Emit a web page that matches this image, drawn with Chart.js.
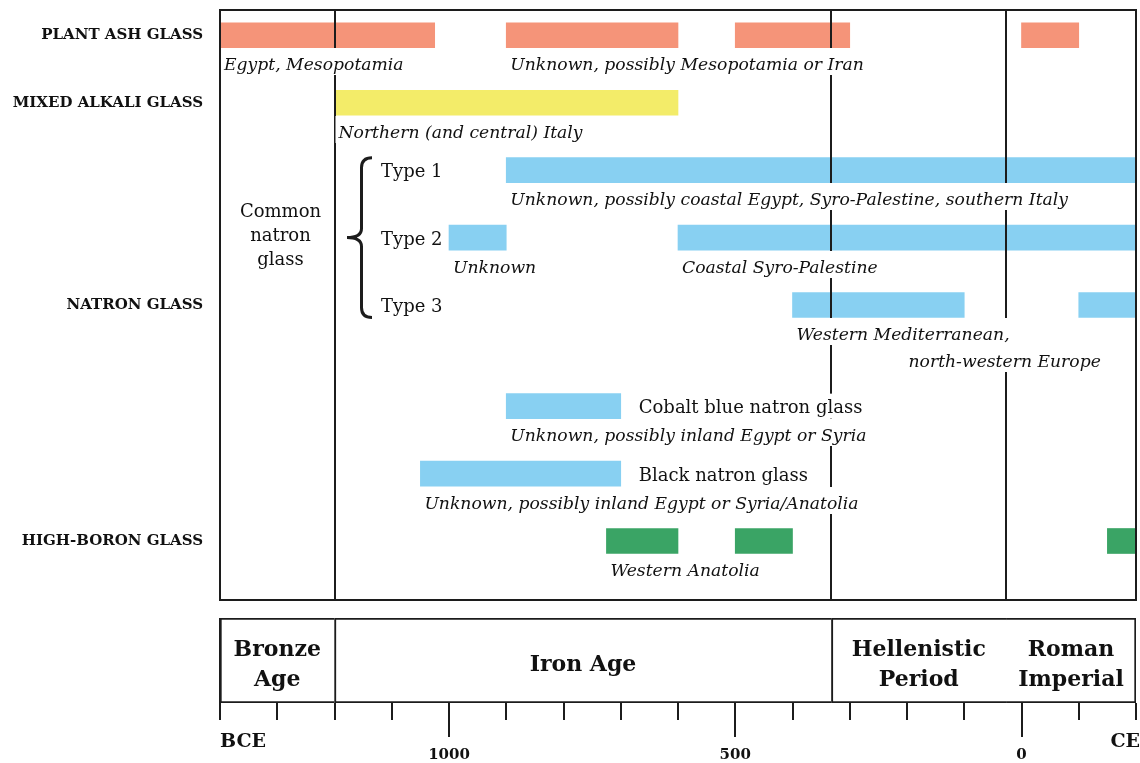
<!DOCTYPE html>
<html>
<head>
<meta charset="utf-8">
<title>Ancient glass types timeline</title>
<script src="https://cdn.jsdelivr.net/npm/chart.js@4.4.1/dist/chart.umd.min.js"></script>
<style>
  body { margin: 0; background: #fff; }
  #wrap { position: relative; width: 1140px; height: 763px; }
  canvas { position: absolute; left: 0; }
</style>
</head>
<body>
<div id="wrap">
  <canvas id="glassChart" width="1140" height="610" style="top:0"></canvas>
  <canvas id="periodChart" width="1140" height="153" style="top:610px"></canvas>
</div>
<script>
(() => {
  // years, negative = BCE
  const yearMin = -1400;
  const yearMax = 200;

  const rowKeys = ['plantAsh', 'mixedAlkali', 'type1', 'type2', 'type3', 'cobalt', 'black', 'highBoron'];
  const rowTitles = ['PLANT ASH GLASS', 'MIXED ALKALI GLASS', '', '', 'NATRON GLASS', '', '', 'HIGH-BORON GLASS'];
  const rowTypeLabels = ['', '', 'Type 1', 'Type 2', 'Type 3', '', '', ''];
  const rowSideLabels = ['', '', '', '', '', 'Cobalt blue natron glass', 'Black natron glass', ''];
  const natronGroupLabel = ['Common', 'natron', 'glass'];

  const plantAshBars = [[-1400, -1025], [-900, -600], [-500, -300], [0, 100]];
  const plantAshRegions = ['Egypt, Mesopotamia', 'Unknown, possibly Mesopotamia or Iran', '', ''];
  const mixedAlkaliBars = [[-1200, -600]];
  const mixedAlkaliRegions = ['Northern (and central) Italy'];
  const type1Bars = [[-900, 200]];
  const type1Regions = ['Unknown, possibly coastal Egypt, Syro-Palestine, southern Italy'];
  const type2Bars = [[-1000, -900], [-600, 200]];
  const type2Regions = ['Unknown', 'Coastal Syro-Palestine'];
  const type3Bars = [[-400, -100], [100, 200]];
  const type3Regions = ['Western Mediterranean,\nnorth-western Europe', ''];
  const cobaltBars = [[-900, -700]];
  const cobaltRegions = ['Unknown, possibly inland Egypt or Syria'];
  const blackBars = [[-1050, -700]];
  const blackRegions = ['Unknown, possibly inland Egypt or Syria/Anatolia'];
  const highBoronBars = [[-725, -600], [-500, -400], [150, 200]];
  const highBoronRegions = ['Western Anatolia', '', ''];

  const periodNames = ['Bronze\nAge', 'Iron Age', 'Hellenistic\nPeriod', 'Roman\nImperial'];
  const periodStarts = [-1400, -1200, -332, -27];
  const periodEnds = [-1200, -332, -27, 200];

  const tickStep = 100;
  const majorTicks = [-1000, -500, 0];
  const majorTickLabels = ['1000', '500', '0'];
  const eraLabels = ['BCE', 'CE'];

  const rowBars = [plantAshBars, mixedAlkaliBars, type1Bars, type2Bars, type3Bars, cobaltBars, blackBars, highBoronBars];
  const rowRegions = [plantAshRegions, mixedAlkaliRegions, type1Regions, type2Regions, type3Regions, cobaltRegions, blackRegions, highBoronRegions];

  const plantAshColor = '#f59479';
  const mixedAlkaliColor = '#f3ec69';
  const natronColor = '#88d0f2';
  const highBoronColor = '#3aa465';
  const rowColors = [plantAshColor, mixedAlkaliColor, natronColor, natronColor, natronColor, natronColor, natronColor, highBoronColor];

  const serif = '"DejaVu Serif", "Liberation Serif", serif';
  const lineColor = '#1c1c1c';
  const textColor = '#111';

  // rows sit on a finer category grid so the natron group can be spaced out
  const rowSlots = [1, 5, 9, 13, 17, 23, 27, 31];
  const slotCount = 35;
  const categories = Array.from({ length: slotCount }, (_, i) => {
    const r = rowSlots.indexOf(i);
    return r >= 0 ? rowKeys[r] : '';
  });

  const annotations = {
    id: 'glassAnnotations',
    afterDatasetsDraw(chart) {
      const { ctx, chartArea: area, scales: { x } } = chart;
      const ironPx = Math.round(x.getPixelForValue(periodStarts[1]));
      ctx.save();

      ctx.strokeStyle = lineColor;
      ctx.lineWidth = 2;
      periodStarts.slice(1).forEach(year => {
        const px = Math.round(x.getPixelForValue(year));
        ctx.beginPath();
        ctx.moveTo(px, area.top);
        ctx.lineTo(px, area.bottom);
        ctx.stroke();
      });

      ctx.textAlign = 'left';
      ctx.textBaseline = 'alphabetic';
      ctx.font = `italic 17.2px ${serif}`;
      rowKeys.forEach((key, r) => {
        const meta = chart.getDatasetMeta(r);
        rowRegions[r].forEach((text, j) => {
          if (!text) {
            return;
          }
          const bar = meta.data[j];
          const left = Math.min(bar.base, bar.x);
          const bottom = Math.ceil(bar.y + bar.height / 2);
          text.split('\n').forEach((line, k) => {
            const tx = left + 4 + (k ? 112 : 0);
            const top = bottom + k * 27;
            const w = ctx.measureText(line).width;
            ctx.fillStyle = '#fff';
            ctx.fillRect(tx - 3, top, w + 6, 27);
            ctx.fillStyle = textColor;
            ctx.fillText(line, tx, top + 22);
          });
        });
      });

      ctx.font = `18px ${serif}`;
      rowKeys.forEach((key, r) => {
        const meta = chart.getDatasetMeta(r);
        const first = meta.data[0];
        if (rowSideLabels[r]) {
          const last = meta.data[meta.data.length - 1];
          const tx = Math.max(last.base, last.x) + 18;
          const w = ctx.measureText(rowSideLabels[r]).width;
          ctx.fillStyle = '#fff';
          ctx.fillRect(tx - 3, last.y - last.height / 2, w + 6, last.height);
          ctx.fillStyle = textColor;
          ctx.fillText(rowSideLabels[r], tx, last.y + 7);
        }
        if (rowTypeLabels[r]) {
          ctx.fillStyle = textColor;
          ctx.fillText(rowTypeLabels[r], ironPx + 46, first.y + 7);
        }
      });

      // common natron glass group + brace
      const t1 = chart.getDatasetMeta(2).data[0];
      const t2 = chart.getDatasetMeta(3).data[0];
      const t3 = chart.getDatasetMeta(4).data[0];
      ctx.textAlign = 'center';
      ctx.fillStyle = textColor;
      const cx = (area.left + ironPx) / 2 + 3;
      natronGroupLabel.forEach((line, k) => {
        ctx.fillText(line, cx, t2.y - 20.5 + k * 24);
      });

      const top = t1.y - t1.height / 2;
      const bottom = t3.y + t3.height / 2;
      const mid = t2.y;
      const bx = ironPx + 26.5;
      ctx.lineWidth = 3;
      ctx.beginPath();
      ctx.moveTo(ironPx + 37, top);
      ctx.quadraticCurveTo(bx, top, bx, top + 10);
      ctx.lineTo(bx, mid - 9);
      ctx.quadraticCurveTo(bx, mid, ironPx + 12, mid);
      ctx.quadraticCurveTo(bx, mid, bx, mid + 9);
      ctx.lineTo(bx, bottom - 10);
      ctx.quadraticCurveTo(bx, bottom, ironPx + 37, bottom);
      ctx.stroke();

      ctx.lineWidth = 2;
      ctx.strokeRect(area.left, area.top, area.width, area.height);
      ctx.restore();
    }
  };

  new Chart(document.getElementById('glassChart'), {
    type: 'bar',
    data: {
      labels: categories,
      datasets: rowKeys.map((key, r) => ({
        label: key,
        data: rowBars[r].map(bar => ({ x: bar, y: key })),
        backgroundColor: rowColors[r],
        borderWidth: 0,
        barThickness: 25,
        grouped: false
      }))
    },
    options: {
      indexAxis: 'y',
      responsive: false,
      animation: false,
      events: [],
      layout: { padding: { top: 10, bottom: 10, left: 0, right: 4 } },
      plugins: { legend: { display: false }, tooltip: { enabled: false } },
      scales: {
        x: { type: 'linear', min: yearMin, max: yearMax, display: false },
        y: {
          type: 'category',
          grid: { display: false, drawTicks: false },
          border: { display: false },
          ticks: {
            autoSkip: false,
            padding: 17,
            color: textColor,
            font: { family: serif, weight: 'bold', size: 15 },
            callback(value) {
              const r = rowKeys.indexOf(this.getLabelForValue(value));
              return r >= 0 ? rowTitles[r] : '';
            }
          },
          afterFit(scale) {
            scale.width = 220;
            scale.paddingTop = 0;
            scale.paddingBottom = 0;
          }
        }
      }
    },
    plugins: [annotations]
  });

  const periodLabels = {
    id: 'periodLabels',
    afterDatasetsDraw(chart) {
      const { ctx, chartArea: area, scales: { x } } = chart;
      ctx.save();
      ctx.strokeStyle = lineColor;
      ctx.lineWidth = 2;
      ctx.beginPath();
      ctx.moveTo(area.left, area.top);
      ctx.lineTo(area.left, area.bottom + 17);
      ctx.stroke();

      majorTicks.forEach(year => {
        const px = Math.round(x.getPixelForValue(year));
        ctx.beginPath();
        ctx.moveTo(px, area.bottom + 16);
        ctx.lineTo(px, area.bottom + 34);
        ctx.stroke();
      });

      ctx.fillStyle = textColor;
      ctx.textAlign = 'center';
      ctx.textBaseline = 'alphabetic';
      ctx.font = `bold 22px ${serif}`;
      const cy = (area.top + area.bottom) / 2;
      chart.getDatasetMeta(0).data.forEach((bar, i) => {
        const lines = periodNames[i].split('\n');
        const cx = (bar.base + bar.x) / 2;
        lines.forEach((line, k) => {
          ctx.fillText(line, cx, cy + 10.5 + (k - (lines.length - 1) / 2) * 30);
        });
      });

      ctx.font = `bold 19px ${serif}`;
      ctx.textAlign = 'left';
      ctx.fillText(eraLabels[0], area.left, area.bottom + 44);
      ctx.textAlign = 'right';
      ctx.fillText(eraLabels[1], area.right + 4, area.bottom + 44);
      ctx.restore();
    }
  };

  new Chart(document.getElementById('periodChart'), {
    type: 'bar',
    data: {
      labels: ['periods'],
      datasets: [{
        data: periodStarts.map((start, i) => ({ x: [start, periodEnds[i]], y: 'periods' })),
        backgroundColor: '#fff',
        borderColor: lineColor,
        borderWidth: 2,
        borderSkipped: 'start',
        barPercentage: 1,
        categoryPercentage: 1
      }]
    },
    options: {
      indexAxis: 'y',
      responsive: false,
      animation: false,
      events: [],
      layout: { padding: { top: 8, bottom: 0, left: 220, right: 4 } },
      plugins: { legend: { display: false }, tooltip: { enabled: false } },
      scales: {
        x: {
          type: 'linear',
          min: yearMin,
          max: yearMax,
          border: { display: false },
          grid: { drawOnChartArea: false, drawTicks: true, tickLength: 17, color: lineColor, lineWidth: 2 },
          ticks: {
            stepSize: tickStep,
            autoSkip: false,
            maxRotation: 0,
            padding: 26,
            color: textColor,
            font: { family: serif, weight: 'bold', size: 15 },
            callback: value => {
              const i = majorTicks.indexOf(value);
              return i >= 0 ? majorTickLabels[i] : '';
            }
          },
          afterFit(scale) {
            scale.height = 60;
            scale.paddingLeft = 0;
            scale.paddingRight = 0;
          }
        },
        y: { display: false }
      }
    },
    plugins: [periodLabels]
  });
})();
</script>
</body>
</html>
